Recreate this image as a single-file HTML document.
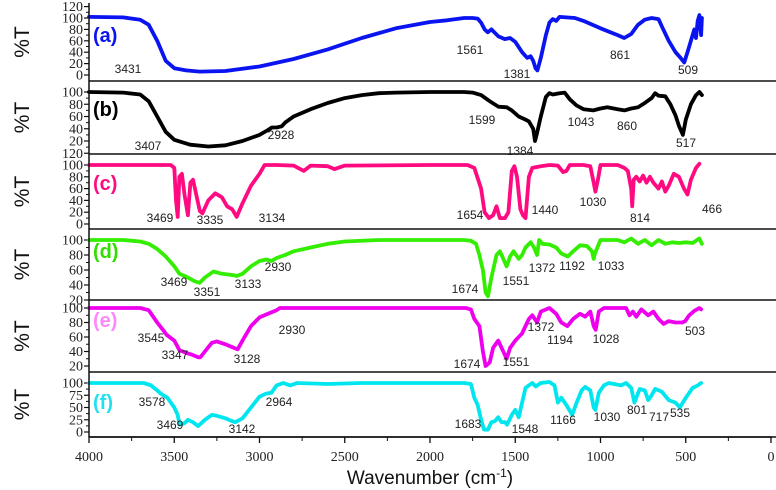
<!DOCTYPE html>
<html><head><meta charset="utf-8"><style>
html,body{margin:0;padding:0;background:#fff;width:776px;height:490px;overflow:hidden}
svg{display:block}
.tk{font-family:"Liberation Serif",serif;font-size:14px;fill:#222}
.pk{font-family:"Liberation Sans",sans-serif;font-size:12px;fill:#222}
</style></head><body>
<svg id="chart" width="776" height="490"></svg>
<script>
const xTicks=[4000,3500,3000,2500,2000,1500,1000,500,0];
const seriesA=[[4000,102],[3800,101],[3700,97],[3650,88],[3600,60],[3550,25],[3500,12],[3431,8],[3350,6],[3200,7],[3000,15],[2800,28],[2600,45],[2400,65],[2200,82],[2000,93],[1900,96],[1850,98],[1800,100],[1750,100],[1720,99],[1700,92],[1680,80],[1661,75],[1640,80],[1600,68],[1561,63],[1530,65],[1500,58],[1460,40],[1430,30],[1410,33],[1395,25],[1381,12],[1370,8],[1350,30],[1320,70],[1300,92],[1280,98],[1260,95],[1240,102],[1200,101],[1150,100],[1100,95],[1000,82],[900,70],[861,65],[820,72],[780,88],[740,97],[700,100],[660,98],[640,85],[600,60],[560,40],[530,30],[509,22],[490,40],[470,60],[450,80],[440,65],[430,95],[420,105],[410,70],[405,100]];
const seriesB=[[4000,100],[3800,99],[3700,96],[3650,85],[3600,60],[3550,35],[3500,22],[3407,14],[3300,11],[3200,13],[3100,20],[3000,30],[2950,38],[2928,42],[2900,42],[2870,44],[2850,50],[2800,60],[2700,72],[2600,82],[2500,90],[2400,95],[2300,98],[2200,99],[2000,100],[1800,100],[1750,99],[1700,95],[1650,85],[1599,76],[1550,75],[1520,70],[1480,60],[1440,55],[1420,52],[1395,40],[1384,20],[1375,30],[1350,60],[1320,92],[1300,98],[1280,96],[1240,98],[1210,99],[1180,88],[1140,78],[1100,72],[1043,70],[1000,73],[960,75],[900,72],[860,70],[820,73],[780,75],[740,82],[700,90],[680,98],[660,94],[620,93],[590,80],[560,62],[540,45],[517,30],[500,55],[470,80],[440,95],[420,100],[405,95]];
const seriesC=[[4000,100],[3520,100],[3500,95],[3490,40],[3480,12],[3470,80],[3455,85],[3440,50],[3420,15],[3405,70],[3390,75],[3375,55],[3350,22],[3335,18],[3300,40],[3260,52],[3220,45],[3190,30],[3160,25],[3134,12],[3100,35],[3050,65],[3000,85],[2970,100],[2900,100],[2800,99],[2740,90],[2700,99],[2600,98],[2560,93],[2500,99],[2000,100],[1900,100],[1780,100],[1740,95],[1700,60],[1680,20],[1654,10],[1630,15],[1610,30],[1590,10],[1560,10],[1540,20],[1520,90],[1505,98],[1490,80],[1470,25],[1455,15],[1440,10],[1420,80],[1400,95],[1350,98],[1300,100],[1250,99],[1220,88],[1200,90],[1180,100],[1100,100],[1060,98],[1040,70],[1030,55],[1015,75],[1000,100],[900,100],[860,95],[840,90],[820,60],[814,30],[805,75],[790,80],[770,72],[750,82],[730,70],[710,80],[690,70],[660,60],[640,72],[620,55],[600,65],[570,85],[540,80],[510,60],[490,50],[470,75],[440,95],[420,102]];
const seriesD=[[4000,100],[3800,100],[3700,98],[3650,95],[3600,88],[3550,78],[3500,65],[3469,55],[3420,50],[3380,45],[3351,43],[3320,50],[3270,58],[3220,55],[3150,53],[3133,52],[3100,55],[3050,65],[3000,72],[2960,74],[2930,72],[2900,76],[2850,80],[2800,85],[2700,90],[2600,95],[2500,98],[2300,100],[1800,100],[1760,99],[1730,95],[1710,80],[1700,70],[1690,60],[1674,30],[1660,25],[1640,50],[1610,80],[1590,85],[1570,75],[1551,65],[1530,78],[1510,85],[1480,75],[1460,80],[1440,90],[1410,97],[1390,90],[1372,80],[1360,100],[1340,95],[1300,94],[1260,90],[1230,82],[1192,78],[1160,85],[1120,93],[1080,92],[1050,85],[1040,75],[1033,82],[1000,100],[900,100],[860,97],[820,102],[780,95],[740,100],[700,93],[660,100],[620,95],[580,97],[540,96],[500,97],[460,96],[420,102],[405,95]];
const seriesE=[[4000,100],[3700,100],[3650,97],[3600,80],[3560,68],[3545,63],[3500,55],[3470,42],[3450,40],[3430,38],[3400,36],[3360,32],[3347,32],[3320,40],[3280,52],[3250,54],[3200,50],[3150,45],[3128,43],[3100,55],[3050,75],[3000,87],[2950,92],[2900,97],[2880,100],[2000,100],[1790,100],[1760,98],[1740,85],[1710,75],[1690,40],[1674,20],[1650,25],[1630,45],[1600,55],[1570,40],[1551,30],[1530,45],[1500,55],[1480,60],[1460,65],[1440,75],[1420,85],[1400,90],[1372,80],[1350,95],[1300,100],[1260,92],[1230,80],[1194,75],[1160,85],[1120,92],[1090,88],[1060,95],[1040,75],[1028,70],[1010,95],[980,100],[850,100],[830,90],[810,95],[790,88],[760,98],[720,90],[690,95],[660,85],[630,78],[600,82],[560,80],[520,80],[503,82],[480,90],[450,96],[420,100],[410,98]];
const seriesF=[[4000,100],[3680,100],[3640,96],[3600,85],[3578,78],[3540,70],[3500,50],[3480,35],[3469,15],[3440,18],[3420,25],[3390,20],[3360,12],[3320,25],[3280,35],[3250,33],[3200,28],[3160,22],[3142,20],[3100,28],[3050,50],[3000,72],[2964,78],[2930,80],[2900,95],[2860,100],[2820,95],[2780,100],[2600,98],[2400,100],[2000,100],[1800,100],[1760,98],[1740,70],[1720,55],[1700,25],[1683,5],[1660,5],[1640,20],[1620,22],[1600,30],[1580,20],[1560,20],[1548,15],[1520,35],[1500,45],[1480,30],[1460,60],[1440,90],[1420,95],[1400,100],[1380,93],[1350,100],[1300,102],[1270,95],[1250,60],[1230,70],[1200,55],[1166,35],[1140,60],[1110,85],[1090,92],[1060,85],[1040,50],[1030,45],[1010,80],[980,95],[950,100],[880,95],[850,100],[820,90],[801,60],[790,70],[770,88],[740,85],[720,65],[700,75],[680,88],[640,82],[600,65],[560,60],[535,50],[500,70],[460,90],[430,95],[410,100]];
const tickLabelsA=["120","100","80","60","40","20","0"];
const tickValsA=[120,100,80,60,40,20,0];
const tickLabelsB=["100","80","60","40","20","120"];
const tickValsB=[100,80,60,40,20,0];
const tickValsC=[100,80,60,40,20,0];
const tickValsD=[100,80,60,40,20];
const tickValsE=[100,80,60,40,20];
const tickValsF=[100,75,50,25,0];
const peaksA=[["3431",128,73],["1561",470,54],["1381",517,78],["861",620,59],["509",688,74]];
const peaksB=[["3407",148,150],["2928",281,139],["1599",482,124],["1384",520,155],["1043",581,126],["860",627,130],["517",686,147]];
const peaksC=[["3469",160,222],["3335",210,224],["3134",272,222],["1654",470,219],["1440",545,214],["1030",593,206],["814",640,222],["466",712,213]];
const peaksD=[["3469",174,286],["3351",207,296],["3133",248,288],["2930",278,271],["1674",465,293],["1551",516,285],["1372",542,272],["1192",572,270],["1033",611,270]];
const peaksE=[["3545",151,342],["3347",175,359],["3128",247,363],["2930",292,334],["1674",467,368],["1551",516,366],["1372",541,331],["1194",560,344],["1028",606,343],["503",695,335]];
const peaksF=[["3578",152,406],["3469",170,429],["3142",242,433],["2964",279,406],["1683",468,428],["1548",525,433],["1166",563,424],["1030",607,421],["801",637,414],["717",659,421],["535",680,417]];

const NS="http://www.w3.org/2000/svg";
const svg=document.getElementById('chart');
const X0=89,X1=771;
function xs(w){return X0+(4000-w)/4000*(X1-X0);}
function mk(tag,attrs,parent){const e=document.createElementNS(NS,tag);for(const k in attrs)e.setAttribute(k,attrs[k]);(parent||svg).appendChild(e);return e;}

const panels=[
 {id:'a',data:seriesA,color:'#0a14f0',lab:'#0a14f0',y0:75,y100:18,vals:tickValsA,labs:tickLabelsA,top:3,bot:81,peaks:peaksA,ly:42},
 {id:'b',data:seriesB,color:'#000',lab:'#000',y0:153.25,y100:92,vals:tickValsB,labs:tickLabelsB,top:81,bot:154,peaks:peaksB,ly:116},
 {id:'c',data:seriesC,color:'#ff0a80',lab:'#ff0a80',y0:224,y100:165,vals:tickValsC,top:154,bot:229,peaks:peaksC,ly:190},
 {id:'d',data:seriesD,color:'#33ee00',lab:'#33dd00',y0:315,y100:240,vals:tickValsD,top:229,bot:300,peaks:peaksD,ly:258},
 {id:'e',data:seriesE,color:'#ee00ee',lab:'#ff88ff',y0:380.5,y100:308,vals:tickValsE,top:300,bot:372,peaks:peaksE,ly:327},
 {id:'f',data:seriesF,color:'#00e6ee',lab:'#22e0ee',y0:432,y100:383,vals:tickValsF,top:372,bot:437,peaks:peaksF,ly:409}
];

panels.forEach(p=>{
  const ys=t=>p.y0+(p.y100-p.y0)*t/100;
  const g=mk('g',{});
  
  
  const sep=mk('line',{x1:X0,x2:776,y1:p.bot,y2:p.bot,stroke:'#111','stroke-width':1.5},g);
  
  
  p.vals.forEach((v,i)=>{
    const y=ys(v);
    mk('line',{x1:X0-5,x2:X0,y1:y,y2:y,stroke:'#111','stroke-width':1.2},g);
    if(i<p.vals.length-1){const ym=ys(v+(p.vals[i+1]-v)/2);mk('line',{x1:X0-3,x2:X0,y1:ym,y2:ym,stroke:'#111','stroke-width':1},g);}
    const t=mk('text',{x:X0-6,y:y+4.5,'text-anchor':'end',class:'tk'},g);
    t.textContent=p.labs?p.labs[i]:String(v);
    
    
  });
  const cy=(p.top+p.bot)/2;
  const yt=mk('text',{x:0,y:0,transform:`translate(29,${cy}) rotate(-90)`,'text-anchor':'middle','font-family':'Liberation Sans, sans-serif','font-size':'21',fill:'#111'},g);
  yt.textContent='%T';
  
  
  const d=p.data.map((pt,i)=>(i?'L':'M')+xs(pt[0]).toFixed(1)+','+ys(pt[1]).toFixed(1)).join(' ');
  const path=mk('path',{d:d,fill:'none',stroke:p.color,'stroke-width':3.8,'stroke-linejoin':'round','stroke-linecap':'round'},g);
  
  
  const pl=mk('text',{x:93,y:p.ly,'font-family':'Liberation Sans, sans-serif','font-size':'20','font-weight':'bold',fill:p.lab},g);
  pl.textContent='('+p.id+')';
  
  
  p.peaks.forEach(k=>{
    const t=mk('text',{x:k[1],y:k[2],'text-anchor':'middle',class:'pk'},g);
    t.textContent=k[0];
    
    
  });
});

const ax=mk('line',{x1:X0,x2:X0,y1:3,y2:437,stroke:'#111','stroke-width':1.5});


const xax=mk('line',{x1:X0,x2:X1+1,y1:437,y2:437,stroke:'#111','stroke-width':1.5});


xTicks.forEach((w,i)=>{
  const x=xs(w);
  mk('line',{x1:x,x2:x,y1:437,y2:443,stroke:'#111','stroke-width':1.3});
  if(i<xTicks.length-1){const xm=xs(w-250);mk('line',{x1:xm,x2:xm,y1:437,y2:441,stroke:'#111','stroke-width':1});}
  const t=mk('text',{x:x,y:461,'text-anchor':'middle',class:'tk','font-size':'15'});
  t.textContent=String(w);
  
  
});
const xt=mk('text',{x:430,y:484,'text-anchor':'middle','font-family':'Liberation Sans, sans-serif','font-size':'19',fill:'#111'});


xt.textContent='Wavenumber (cm';
const sup=mk('tspan',{dy:'-7','font-size':'12'},xt);sup.textContent='-1';
const cl=mk('tspan',{dy:'7'},xt);cl.textContent=')';
</script>
</body></html>
